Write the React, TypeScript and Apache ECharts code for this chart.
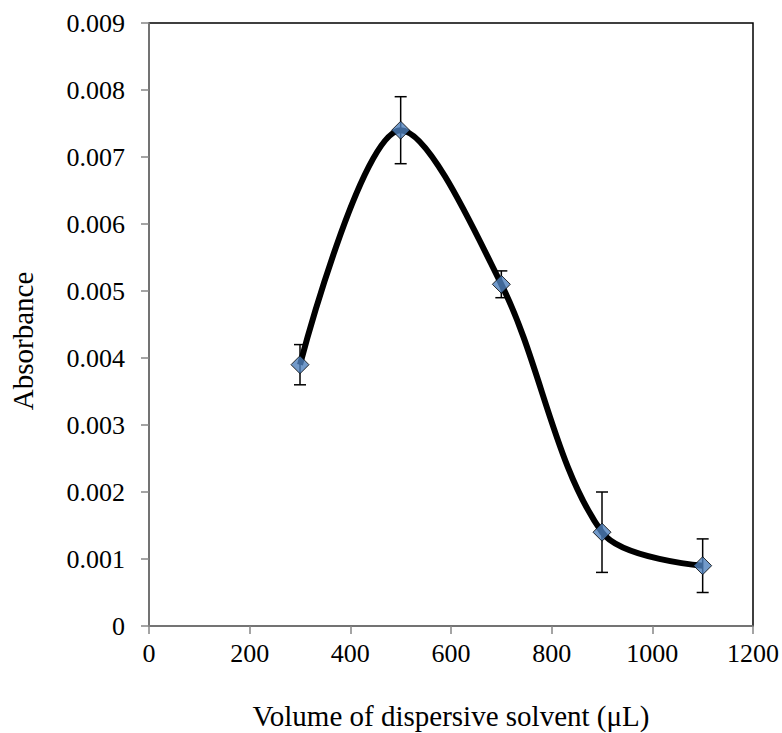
import React, { useEffect, useRef } from "react";
import * as echarts from "echarts";

const volumes = [300, 500, 700, 900, 1100];
const absorbance = [0.0039, 0.0074, 0.0051, 0.0014, 0.0009];
const errors = [0.0003, 0.0005, 0.0002, 0.0006, 0.0004];
const yTicks = ["0", "0.001", "0.002", "0.003", "0.004", "0.005", "0.006", "0.007", "0.008", "0.009"];

const FONT = "'Liberation Serif', 'Times New Roman', serif";

export default function App() {
  const ref = useRef<HTMLDivElement>(null);
  useEffect(() => {
    if (!ref.current) return;
    const chart = echarts.init(ref.current, undefined, { renderer: "svg" });
    const errData = volumes.map((v, i) => [v, absorbance[i] - errors[i], absorbance[i] + errors[i]]);
    chart.setOption({
      animation: false,
      backgroundColor: "#fff",
      grid: {
        left: 149,
        top: 23,
        right: 29,
        bottom: 107,
        show: true,
        borderColor: "#000",
        borderWidth: 1.5,
        containLabel: false,
      },
      xAxis: {
        type: "value",
        min: 0,
        max: 1200,
        interval: 200,
        axisLine: { show: true, onZero: false, lineStyle: { color: "#868686", width: 1.5 } },
        axisTick: { show: true, inside: false, length: 8, lineStyle: { color: "#868686", width: 1.5 } },
        splitLine: { show: false },
        axisLabel: {
          color: "#000",
          fontFamily: FONT,
          fontSize: 26,
          margin: 14,
          formatter: (v: number) => String(v),
        },
      },
      yAxis: {
        type: "value",
        min: 0,
        max: 0.009,
        interval: 0.001,
        axisLine: { show: true, onZero: false, lineStyle: { color: "#868686", width: 1.5 } },
        axisTick: { show: true, inside: false, length: 8, lineStyle: { color: "#868686", width: 1.5 } },
        splitLine: { show: false },
        axisLabel: {
          color: "#000",
          fontFamily: FONT,
          fontSize: 26,
          margin: 24,
          formatter: (v: number) => yTicks[Math.round(v * 1000)] ?? String(v),
        },
      },
      graphic: [
        {
          type: "text",
          x: 23,
          y: 341,
          rotation: Math.PI / 2,
          style: {
            text: "Absorbance",
            fontFamily: FONT,
            fontSize: 29,
            fill: "#000",
            align: "center",
            verticalAlign: "middle",
          },
        },
        {
          type: "text",
          x: 451,
          y: 716,
          style: {
            text: "Volume of dispersive solvent (μL)",
            fontFamily: FONT,
            fontSize: 29,
            fill: "#000",
            align: "center",
            verticalAlign: "middle",
          },
        },
      ],
      series: [
        {
          type: "line",
          data: volumes.map((v, i) => [v, absorbance[i]]),
          smooth: 0.33,
          lineStyle: { color: "#000", width: 6 },
          symbol: "none",
          z: 2,
        },
        {
          type: "custom",
          data: errData,
          z: 3,
          renderItem: (params: any, api: any) => {
            const x = api.value(0);
            const lo = api.coord([x, api.value(1)]);
            const hi = api.coord([x, api.value(2)]);
            const w = 6;
            const style = { stroke: "#000", lineWidth: 1.5 };
            return {
              type: "group",
              children: [
                { type: "line", shape: { x1: lo[0], y1: lo[1], x2: hi[0], y2: hi[1] }, style },
                { type: "line", shape: { x1: lo[0] - w, y1: lo[1], x2: lo[0] + w, y2: lo[1] }, style },
                { type: "line", shape: { x1: hi[0] - w, y1: hi[1], x2: hi[0] + w, y2: hi[1] }, style },
              ],
            };
          },
        },
        {
          type: "scatter",
          data: volumes.map((v, i) => [v, absorbance[i]]),
          symbol: "diamond",
          symbolSize: 18,
          itemStyle: { color: "#4F81BD", borderColor: "#000", borderWidth: 1 },
          z: 4,
        },
      ],
    });
    return () => chart.dispose();
  }, []);
  return <div ref={ref} style={{ width: 782, height: 733, position: "absolute", left: 0, top: 0 }} />;
}
